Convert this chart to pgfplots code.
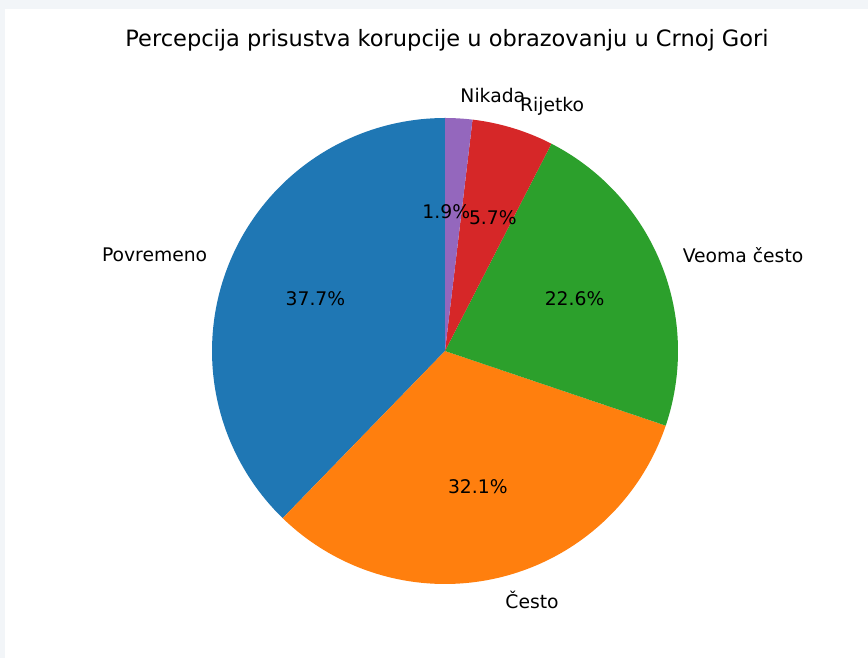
\documentclass[border=0pt]{standalone}
\usepackage{pgfplots}
\usepackage{pgfplotstable}
\usepackage{fontspec}
\pgfplotsset{compat=1.18}
\setmainfont{DejaVu Sans}

\definecolor{tabblue}{HTML}{1F77B4}
\definecolor{taborange}{HTML}{FF7F0E}
\definecolor{tabgreen}{HTML}{2CA02C}
\definecolor{tabred}{HTML}{D62728}
\definecolor{tabpurple}{HTML}{9467BD}
\definecolor{framebg}{HTML}{F2F5F8}

% answers (counts), in the order matplotlib draws them, counter-clockwise from 90 deg
% dx: small sideways nudge of the percent text (px), so the two thin slices don't collide
\pgfplotstableread[col sep=comma]{
label,count,color,dx
Povremeno,20,tabblue,0
Često,17,taborange,0
Veoma često,12,tabgreen,0
Rijetko,3,tabred,7
Nikada,1,tabpurple,-7
}\piedata

% pie geometry, in picture pixels (y up)
\def\cx{445}
\def\cy{307}
\def\rad{233}

\begin{document}
\begin{tikzpicture}
\begin{axis}[
    width=578.67pt, height=438.67pt, scale only axis,
    xmin=0, xmax=868, ymin=0, ymax=658,
    hide axis, clip=false,
]
\fill[framebg] (axis cs:0,0) rectangle (axis cs:868,658);
\fill[white] (axis cs:5,0) rectangle (axis cs:868,649);

\pgfplotstablegetrowsof{\piedata}
\pgfmathtruncatemacro\lastrow{\pgfplotsretval-1}
% total
\def\total{0}
\pgfplotsforeachungrouped \i in {0,...,\lastrow}{%
  \pgfplotstablegetelem{\i}{count}\of\piedata
  \pgfmathsetmacro\total{\total+\pgfplotsretval}%
}
\def\startangle{90}
\pgfplotsforeachungrouped \i in {0,...,\lastrow}{%
  \pgfplotstablegetelem{\i}{count}\of\piedata \let\cnt\pgfplotsretval
  \pgfplotstablegetelem{\i}{color}\of\piedata \let\col\pgfplotsretval
  \pgfplotstablegetelem{\i}{label}\of\piedata \let\lab\pgfplotsretval
  \pgfplotstablegetelem{\i}{dx}\of\piedata \let\dx\pgfplotsretval
  \pgfmathsetmacro\endangle{\startangle+360*\cnt/\total}%
  \pgfmathsetmacro\midangle{(\startangle+\endangle)/2}%
  \pgfmathsetmacro\pct{100*\cnt/\total}%
  \pgfmathprintnumberto[fixed,precision=1,fixed zerofill,assume math mode=true]{\pct}{\pctstr}%
  \pgfmathsetmacro\lx{\cx+1.1*\rad*cos(\midangle)}%
  \pgfmathsetmacro\ly{\cy+1.1*\rad*sin(\midangle)}%
  \pgfmathsetmacro\px{\cx+0.6*\rad*cos(\midangle)+\dx}%
  \pgfmathsetmacro\py{\cy+0.6*\rad*sin(\midangle)}%
  \pgfmathparse{cos(\midangle)>0 ? 1 : 0}%
  \ifnum\pgfmathresult=1 \def\anc{west}\else\def\anc{east}\fi
  \edef\temp{%
    \noexpand\addplot[fill=\col, draw=none, domain=\startangle:\endangle, samples=90]
      ({\cx+\rad*cos(x)},{\cy+\rad*sin(x)}) -- (axis cs:\cx,\cy) -- cycle;
    \noexpand\node[anchor=\anc, inner sep=0pt, font=\noexpand\fontsize{12.5}{15}\noexpand\selectfont]
      at (axis cs:\lx,\ly) {\lab};
    \noexpand\node[anchor=center, inner sep=0pt, font=\noexpand\fontsize{12.5}{15}\noexpand\selectfont]
      at (axis cs:\px,\py) {\pctstr\noexpand\%};
  }%
  \temp
  \global\let\startangle\endangle
}

\node[anchor=base, font=\fontsize{15}{18}\selectfont]
  at (axis cs:447,611) {Percepcija prisustva korupcije u obrazovanju u Crnoj Gori};
\end{axis}
\end{tikzpicture}
\end{document}
